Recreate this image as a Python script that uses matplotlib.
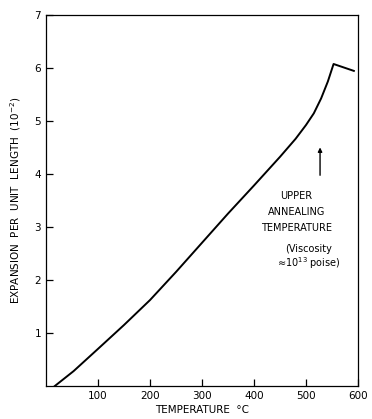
import matplotlib.pyplot as plt
import numpy as np

# Dados
temperatura = [17, 53, 100, 150, 200, 250, 300, 350, 400, 450, 480, 500, 515, 529, 542, 553, 592]
expansao = [0.0, 0.28, 0.70, 1.15, 1.62, 2.15, 2.70, 3.25, 3.78, 4.32, 4.66, 4.92, 5.14, 5.42, 5.74, 6.07, 5.94]
xticks = [100, 200, 300, 400, 500, 600]
yticks = [1, 2, 3, 4, 5, 6, 7]

plt.rcParams['font.family'] = 'DejaVu Sans'

fig = plt.figure(figsize=(3.72, 4.19), dpi=100)
ax = fig.add_axes([0.1237, 0.0788, 0.8387, 0.8862])

ax.plot(temperatura, expansao, color='black', linewidth=1.4)

ax.set_xlim(0, 600)
ax.set_ylim(0, 7)
ax.set_xticks(xticks)
ax.set_yticks(yticks)
ax.tick_params(direction='in', length=5, width=0.9, labelsize=7.5, colors='black')
for s in ax.spines.values():
    s.set_linewidth(0.9)

ax.set_xlabel('TEMPERATURE  °C', fontsize=7.5, labelpad=3)
ax.set_ylabel('EXPANSION  PER  UNIT  LENGTH  (10$^{-2}$)', fontsize=7.5, labelpad=8)

# Anotações
ax.annotate('', xy=(527, 4.55), xytext=(527, 3.92),
            arrowprops=dict(arrowstyle='-|>', color='black', lw=1.0, mutation_scale=6))
ax.text(481, 3.58, 'UPPER', ha='center', va='center', fontsize=7)
ax.text(481, 3.28, 'ANNEALING', ha='center', va='center', fontsize=7)
ax.text(481, 2.98, 'TEMPERATURE', ha='center', va='center', fontsize=7)
ax.text(505, 2.58, '(Viscosity', ha='center', va='center', fontsize=7)
ax.text(505, 2.32, '≈10$^{13}$ poise)', ha='center', va='center', fontsize=7)

plt.savefig('out.png', dpi=100)
